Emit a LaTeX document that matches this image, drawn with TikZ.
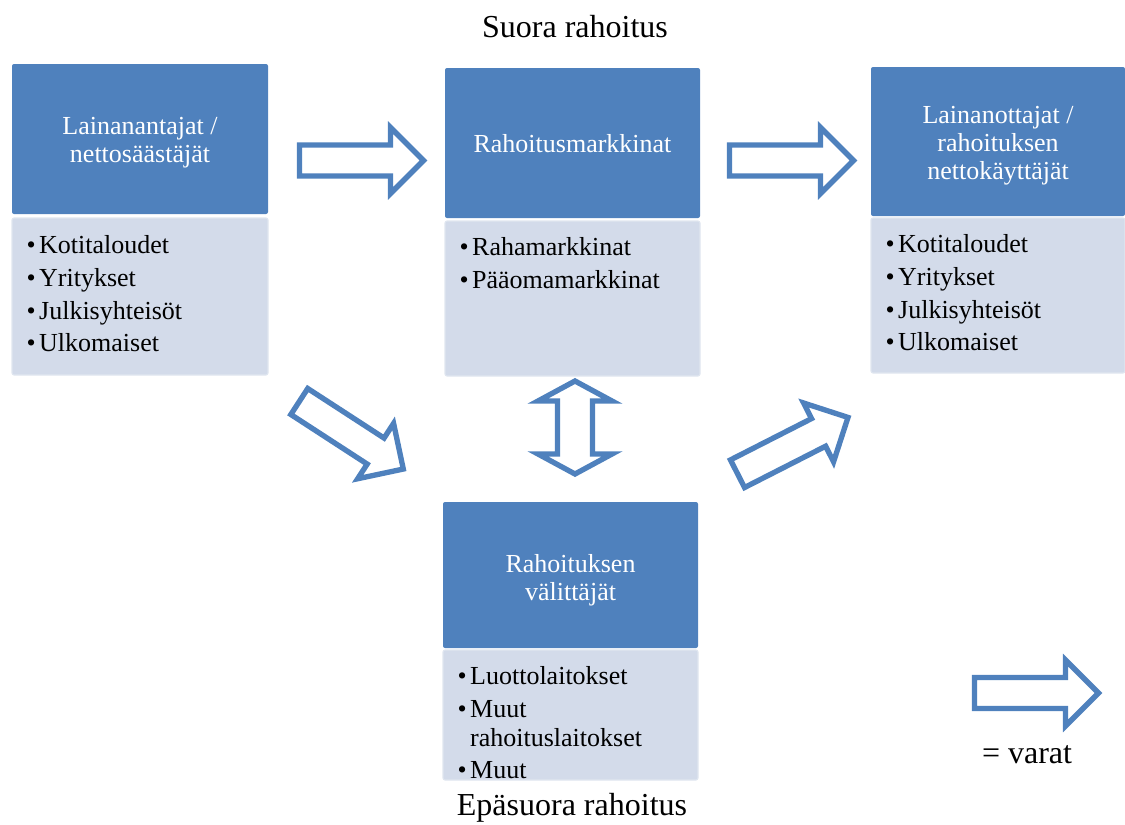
\documentclass[tikz,border=0pt]{standalone}
\usepackage{fontspec}
\setmainfont{Liberation Serif}
\definecolor{hdr}{HTML}{4F81BD}
\definecolor{lst}{HTML}{D3DBEA}
\newcommand\blockarrow[3]{\draw[blk, shift={(#1,#2)}, rotate=#3] (0,-15.5) -- (91,-15.5) -- (91,-33) -- (124,0) -- (91,33) -- (91,15.5) -- (0,15.5) -- cycle;}
\begin{document}
\begin{tikzpicture}[x=0.75pt,y=0.75pt,
  hdrbox/.style={fill=hdr, draw=none, rounded corners=1.5pt, inner sep=0pt},
  hdrtext/.style={text=white, align=center, font=\fontsize{19.5}{20.8}\selectfont, inner sep=0pt},
  lstbox/.style={fill=lst, draw=lst!70!white, line width=0.8pt, rounded corners=1.5pt, inner sep=0pt},
  items/.style={anchor=north west, align=left, inner sep=0pt, font=\fontsize{19.5}{24.5}\selectfont},
  blk/.style={draw=hdr, fill=white, line width=4pt, line join=miter},
  ttl/.style={font=\fontsize{24}{28}\selectfont, inner sep=0pt}]
\useasboundingbox (0,0) rectangle (1125,-825);
\newcommand\bul{\textbullet\hspace{2.5pt}}
% left
\node[hdrbox, minimum width=192pt, minimum height=112.5pt] (lendh) at (140,-139) {};
\node[hdrtext] (lendht) at ([yshift=-2.5pt]lendh.center) {Lainanantajat /\\nettosäästäjät};
\node[lstbox, minimum width=192pt, minimum height=117.75pt] (lendl) at (140,-296.5) {};
\node[items] (lendt) at ([xshift=11.25pt,yshift=-13.5pt]lendl.north west)
  {\bul Kotitaloudet\\\bul Yritykset\\\bul Julkisyhteisöt\\\bul Ulkomaiset};
% middle
\node[hdrbox, minimum width=191.25pt, minimum height=112.5pt] (markh) at (572.5,-143) {};
\node[hdrtext] (markht) at ([yshift=-0.5pt]markh.center) {Rahoitusmarkkinat};
\node[lstbox, minimum width=191.25pt, minimum height=116.25pt] (markl) at (572.5,-298.5) {};
\node[items] (markt) at ([xshift=11.25pt,yshift=-12.75pt]markl.north west)
  {\bul Rahamarkkinat\\\bul Pääomamarkkinat};
% right
\node[hdrbox, minimum width=190.5pt, minimum height=111.75pt] (borrh) at (998,-141.5) {};
\node[hdrtext] (borrht) at ([yshift=-3pt]borrh.center) {Lainanottajat /\\rahoituksen\\nettokäyttäjät};
\node[lstbox, minimum width=190.5pt, minimum height=116.25pt] (borrl) at (998,-295.5) {};
\node[items] (borrt) at ([xshift=11.25pt,yshift=-12.75pt]borrl.north west)
  {\bul Kotitaloudet\\\bul Yritykset\\\bul Julkisyhteisöt\\\bul Ulkomaiset};
% bottom
\node[hdrbox, minimum width=191.25pt, minimum height=109.5pt] (interh) at (570.5,-575) {};
\node[hdrtext] (interht) at ([yshift=-4pt]interh.center) {Rahoituksen\\välittäjät};
\node[lstbox, minimum width=191.25pt, minimum height=97.5pt] (interl) at (570.5,-715) {};
\node[items] (intert) at ([xshift=11.25pt,yshift=-12.75pt]interl.north west)
  {\bul Luottolaitokset\\\bul Muut\\[-3pt]\hphantom{\bul}rahoituslaitokset\\\bul Muut};
% titles
\node[ttl] (suora) at (575,-27) {Suora rahoitus};
\node[ttl] (epasuora) at (572,-808) {Epäsuora rahoitus};
\node[ttl] (varat) at (1027,-755) {= varat};
% block arrows
\blockarrow{299.5}{-160.5}{0}
\blockarrow{729.5}{-160.5}{0}
\blockarrow{299.3}{-401.5}{-33}
\blockarrow{737.5}{-473.7}{27}
\blockarrow{974.5}{-693}{0}
\draw[blk] (575,-381) -- (612,-401) -- (592.5,-401) -- (592.5,-454) -- (612,-454) -- (575,-474)
  -- (538,-454) -- (557.5,-454) -- (557.5,-401) -- (538,-401) -- cycle;
\end{tikzpicture}
\end{document}
